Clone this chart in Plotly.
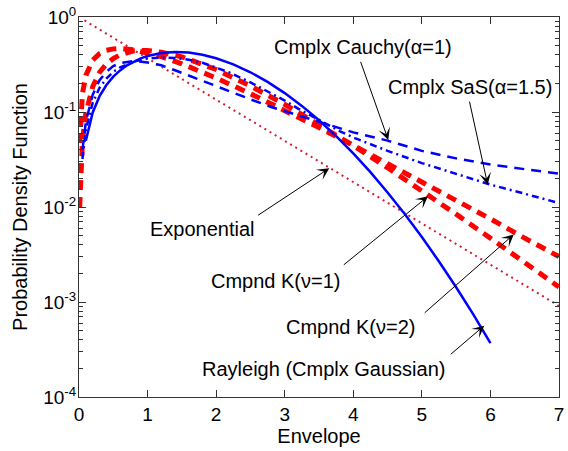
import plotly.graph_objects as go

# ---------------- data ----------------
rayleigh_x = [0.1, 0.2, 0.3, 0.4, 0.5, 0.6, 0.7, 0.8, 0.9, 1.0, 1.2, 1.4, 1.6, 1.8, 2.0,
              2.25, 2.5, 2.75, 3.0, 3.25, 3.5, 3.75, 4.0, 4.25, 4.5, 4.75, 5.0, 5.25,
              5.5, 5.75, 6.0]
rayleigh_y = [0.0499, 0.099, 0.1467, 0.1921, 0.2353, 0.2742, 0.3097, 0.3409, 0.3675,
              0.3894, 0.4186, 0.4288, 0.4218, 0.4004, 0.3679, 0.3174, 0.262, 0.2076,
              0.1581, 0.1159, 0.0818, 0.0557, 0.0366, 0.02325, 0.01424, 0.00844,
              0.00483, 0.00267, 0.00143, 0.00074, 0.00037]

expo_x = [0.08, 0.5, 1.0, 1.5, 2.0, 2.5, 3.0, 3.5, 4.0, 4.5, 5.0, 5.5, 6.0, 6.5, 7.0]
expo_y = [0.92, 0.607, 0.368, 0.223, 0.135, 0.082, 0.0498, 0.0302, 0.0183, 0.0111,
          0.0067, 0.0041, 0.0025, 0.0015, 0.00091]

k_x = [0.01, 0.02, 0.05, 0.1, 0.2, 0.3, 0.4, 0.5, 0.6, 0.8, 1.0, 1.2, 1.5, 2.0, 2.5,
       3.0, 3.5, 4.0, 4.5, 5.0, 5.5, 6.0, 6.5, 7.0]
k_upper_y = [0.047, 0.081, 0.156, 0.243, 0.351, 0.412, 0.446, 0.462, 0.467, 0.452,
             0.421, 0.382, 0.321, 0.228, 0.156, 0.104, 0.0686, 0.0446, 0.0288, 0.0185,
             0.0118, 0.0075, 0.0047, 0.003]
k_lower_y = [0.01, 0.02, 0.0496, 0.0974, 0.185, 0.262, 0.319, 0.366, 0.40, 0.441,
             0.445, 0.426, 0.381, 0.28, 0.188, 0.1205, 0.0738, 0.0443, 0.0259, 0.0149,
             0.0084, 0.0047, 0.0026, 0.00144]

stable_x = [0.05, 0.1, 0.2, 0.3, 0.4, 0.5, 0.6, 0.8, 1.0, 1.2, 1.4, 1.6, 1.8, 2.0, 2.2,
            2.5, 2.8, 3.0, 3.2, 3.5, 3.8, 4.0, 4.5, 5.0, 5.5, 6.0, 6.5, 7.0]
cauchy_y = [0.0397, 0.0788, 0.152, 0.216, 0.266, 0.304, 0.328, 0.344, 0.332, 0.31,
            0.275, 0.243, 0.214, 0.188, 0.165, 0.136, 0.113, 0.102, 0.092, 0.078,
            0.067, 0.061, 0.05, 0.039, 0.0325, 0.028, 0.025, 0.0225]
sas_y = [0.032, 0.065, 0.125, 0.18, 0.225, 0.265, 0.295, 0.34, 0.365, 0.375, 0.37,
         0.355, 0.33, 0.295, 0.26, 0.205, 0.158, 0.132, 0.108, 0.082, 0.063, 0.054,
         0.039, 0.029, 0.0222, 0.0172, 0.0138, 0.011]

x_ticks = [0, 1, 2, 3, 4, 5, 6, 7]
y_decades = [-4, -3, -2, -1, 0]
y_ticktext = ["10<sup>-4</sup>", "10<sup>-3</sup>", "10<sup>-2</sup>",
              "10<sup>-1</sup>", "10<sup>0</sup>"]
minor_digits = [2, 3, 4, 5, 6, 7, 8, 9]

# labels: text, text centre (x, log10 y), arrow tail (x, log10 y), arrow tip (x, log10 y)
labels = [
    ("Cmplx Cauchy(α=1)", (4.14, -0.317), (4.10, -0.457), (4.51, -1.294)),
    ("Cmplx SaS(α=1.5)", (5.70, -0.736), (5.69, -0.875), (5.96, -1.765)),
    ("Exponential", (1.795, -2.234), (2.59, -2.097), (3.65, -1.592)),
    ("Cmpnd K(ν=1)", (2.87, -2.778), (3.84, -2.621), (5.09, -1.888)),
    ("Cmpnd K(ν=2)", (3.97, -3.26), (5.02, -3.127), (6.34, -2.289)),
    ("Rayleigh (Cmplx Gaussian)", (3.57, -3.71), (5.40, -3.563), (5.91, -3.249)),
]

FONT = "Liberation Sans, Arial, sans-serif"
BLUE = "rgb(0,0,255)"
RED = "rgb(255,0,0)"

y_tickvals = [10.0 ** d for d in y_decades]
y_minorvals = [m * 10.0 ** d for d in y_decades[:-1] for m in minor_digits]

fig = go.Figure()
fig.add_trace(go.Scatter(x=expo_x, y=expo_y, mode="lines",
                         line=dict(color="rgb(215,25,50)", width=2, dash="2px,4px")))
fig.add_trace(go.Scatter(x=k_x, y=k_upper_y, mode="lines",
                         line=dict(color=RED, width=5, dash="10px,7px")))
fig.add_trace(go.Scatter(x=k_x, y=k_lower_y, mode="lines",
                         line=dict(color=RED, width=5, dash="10px,7px")))
fig.add_trace(go.Scatter(x=stable_x, y=cauchy_y, mode="lines",
                         line=dict(color=BLUE, width=2.5, dash="10px,7px")))
fig.add_trace(go.Scatter(x=stable_x, y=sas_y, mode="lines",
                         line=dict(color=BLUE, width=2.5, dash="7px,4px,2px,4px")))
fig.add_trace(go.Scatter(x=rayleigh_x, y=rayleigh_y, mode="lines",
                         line=dict(color=BLUE, width=2.5)))

annotations = []
for text, (tx, ty), (ax, ay), (hx, hy) in labels:
    annotations.append(dict(x=tx, y=ty, xref="x", yref="y", text=text, showarrow=False,
                            font=dict(family=FONT, size=20, color="black"),
                            xanchor="center", yanchor="middle"))
    annotations.append(dict(x=hx, y=hy, xref="x", yref="y", ax=ax, ay=ay,
                            axref="x", ayref="y", text="", showarrow=True,
                            arrowhead=3, arrowsize=2, arrowwidth=1, arrowcolor="black",
                            standoff=0, startstandoff=0))

axis_common = dict(showline=True, linecolor="#333333", linewidth=1, mirror="allticks",
                   ticks="inside", tickcolor="#333333", showgrid=False, zeroline=False)

fig.update_layout(
    width=568, height=451, autosize=False,
    margin=dict(l=79, r=4, t=15, b=54),
    paper_bgcolor="white", plot_bgcolor="white",
    showlegend=False,
    annotations=annotations,
    xaxis=dict(range=[0, 7], tickmode="array", tickvals=x_ticks, ticklen=7,
               ticklabeloverflow="allow",
               tickfont=dict(family=FONT, size=19, color="black"),
               title=dict(text="Envelope", font=dict(family=FONT, size=20, color="black"),
                          standoff=4),
               **axis_common),
    yaxis=dict(type="log", range=[-4, 0], tickmode="array", tickvals=y_tickvals,
               ticktext=y_ticktext, ticklen=7, ticklabeloverflow="allow",
               ticklabelstandoff=-2,
               tickfont=dict(family=FONT, size=19, color="black"),
               minor=dict(tickmode="array", tickvals=y_minorvals, ticks="inside",
                          ticklen=4, tickcolor="#333333", showgrid=False),
               title=dict(text="Probability Density Function",
                          font=dict(family=FONT, size=20, color="black"), standoff=10),
               **axis_common),
)

fig.write_html("out.html", config={"displayModeBar": False})
